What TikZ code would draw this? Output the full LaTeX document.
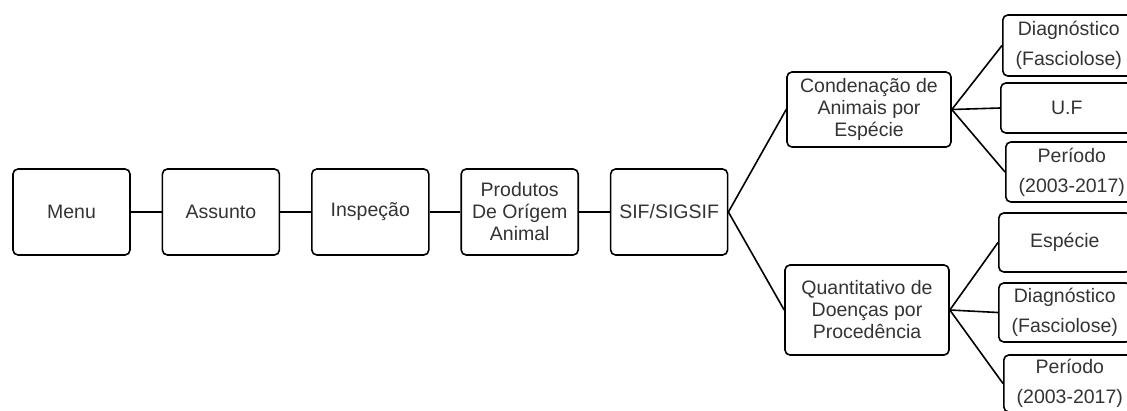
\documentclass[tikz,border=0pt]{standalone}
\usepackage{fontspec}
\setmainfont{Liberation Sans}

\begin{document}
\begin{tikzpicture}[x=1pt, y=-1pt, node distance={149.4pt}, line width=1.6pt,
  main/.style = {draw, rounded corners=5pt, align=center, minimum width=117pt, minimum height=86pt, inner sep=2pt, text=black!80, font=\fontsize{19.5}{22}\selectfont},
  sub/.style = {main, minimum width=164pt, minimum height=75pt},
  leaf/.style = {main, anchor=west, minimum width=132pt, font=\fontsize{19.5}{30}\selectfont}]
\useasboundingbox (0,0) rectangle (1127,410);
\clip (0,0) rectangle (1127,410);
\node[main] (1) at (71.5,212) {Menu};
\node[main] (2) [right of=1] {Assunto};
\node[main] (3) [right of=2] {Inspeção};
\node[main] (4) [right of=3] {Produtos\\De Orígem\\Animal};
\node[main] (5) [right of=4] {SIF/SIGSIF};
\node[sub] (6) at (869,109.5) {Condenação de\\Animais por\\Espécie};
\node[sub, minimum height=90pt] (7) at (867,310) {Quantitativo de\\Doenças por\\Procedência};
\node[leaf, minimum height=61pt] (8) at (1002,45.5) {Diagnóstico\\(Fasciolose)};
\node[leaf, minimum height=50pt] (9) at (1000,108) {U.F};
\node[leaf, minimum height=60pt] (10) at (1005,172) {Período\\(2003-2017)};
\node[leaf, minimum height=59pt] (11) at (998,242.5) {Espécie};
\node[leaf, minimum height=59pt] (12) at (998,312.5) {Diagnóstico\\(Fasciolose)};
\node[leaf, minimum height=57pt] (13) at (1003,383.5) {Período\\(2003-2017)};
\draw (1) -- (2);
\draw (2) -- (3);
\draw (3) -- (4);
\draw (4) -- (5);
\draw (5.east) -- (6.west);
\draw (5.east) -- (7.west);
\draw (6.east) -- (8.west);
\draw (6.east) -- (9.west);
\draw (6.east) -- (10.west);
\draw (7.east) -- (11.west);
\draw (7.east) -- (12.west);
\draw (7.east) -- (13.west);
\end{tikzpicture}
\end{document}
